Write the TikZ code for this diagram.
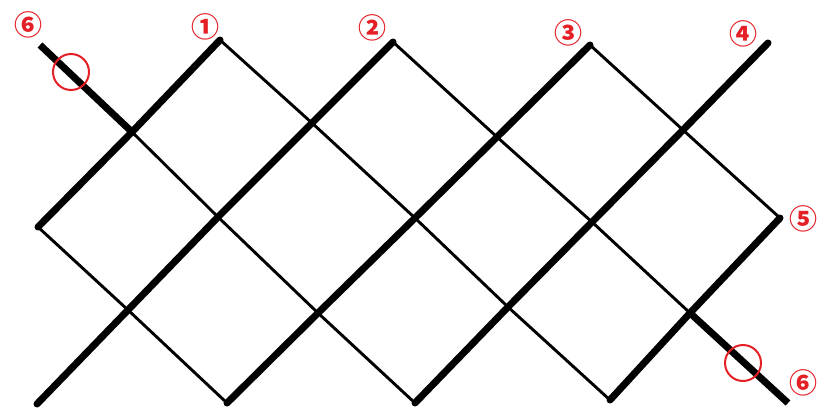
\documentclass[tikz,border=0pt]{standalone}
\usepackage{fontspec}
\newfontfamily\lblfont{Noto Sans CJK KR}
\definecolor{mark}{RGB}{228,32,38}
\tikzset{
  thickln/.style={line width=7pt, line cap=round, line join=round},
  thinln/.style={line width=2.9pt, line cap=round, line join=round},
  endln/.style={line width=7pt, line cap=butt},
  lbl/.style={text=mark, font=\lblfont\bfseries\fontsize{28}{28}\selectfont, inner sep=0pt},
  ring/.style={draw=mark, line width=2pt}
}
\begin{document}
\begin{tikzpicture}[x=1pt,y=-1pt]
\useasboundingbox (0,0) rectangle (818,412);
% row 0
\coordinate (p10) at (40,45);
\coordinate (p30) at (220,40);
\coordinate (p50) at (393,42);
\coordinate (p70) at (590,45);
\coordinate (p90) at (768,43);
% row 1
\coordinate (p21) at (132,132);
\coordinate (p41) at (312,123);
\coordinate (p61) at (497,137);
\coordinate (p81) at (683,130);
% row 2
\coordinate (p12) at (38,227);
\coordinate (p32) at (218,217);
\coordinate (p52) at (415,218);
\coordinate (p72) at (592,222);
\coordinate (p92) at (780,218);
% row 3
\coordinate (p23) at (128,310);
\coordinate (p43) at (318,313);
\coordinate (p63) at (508,307);
\coordinate (p83) at (690,313);
% row 4
\coordinate (p14) at (37,404);
\coordinate (p34) at (227,403);
\coordinate (p54) at (415,403);
\coordinate (p74) at (610,400);
\coordinate (p94) at (788,403);

% thin down-right lines
\draw[thinln] (p21) -- (p32) -- (p43) -- (p54);
\draw[thinln] (p12) -- (p23) -- (p34);
\draw[thinln] (p30) -- (p41) -- (p52) -- (p63) -- (p74);
\draw[thinln] (p50) -- (p61) -- (p72) -- (p83);
\draw[thinln] (p70) -- (p81) -- (p92);
% thick ends of strip 6
\draw[endln] (p10) -- (p21);
\draw[endln] (p83) -- (p94);
% thick up-right lines
\draw[thickln] (p12) -- (p21) -- (p30);
\draw[thickln] (p14) -- (p23) -- (p32) -- (p41) -- (p50);
\draw[thickln] (p34) -- (p43) -- (p52) -- (p61) -- (p70);
\draw[thickln] (p54) -- (p63) -- (p72) -- (p81) -- (p90);
\draw[thickln] (p74) -- (p83) -- (p92);

% highlight rings
\node[ring, circle, minimum size=36pt, inner sep=0pt] (r1) at (71,72) {};
\node[ring, circle, minimum size=36pt, inner sep=0pt] (r2) at (743,363) {};

% labels
\node[lbl] (l6a) at (28,25) {⑥};
\node[lbl] (l1) at (205,27) {①};
\node[lbl] (l2) at (372,28) {②};
\node[lbl] (l3) at (568,33) {③};
\node[lbl] (l4) at (743,34) {④};
\node[lbl] (l5) at (803,219) {⑤};
\node[lbl] (l6b) at (803,383) {⑥};
\end{tikzpicture}
\end{document}
